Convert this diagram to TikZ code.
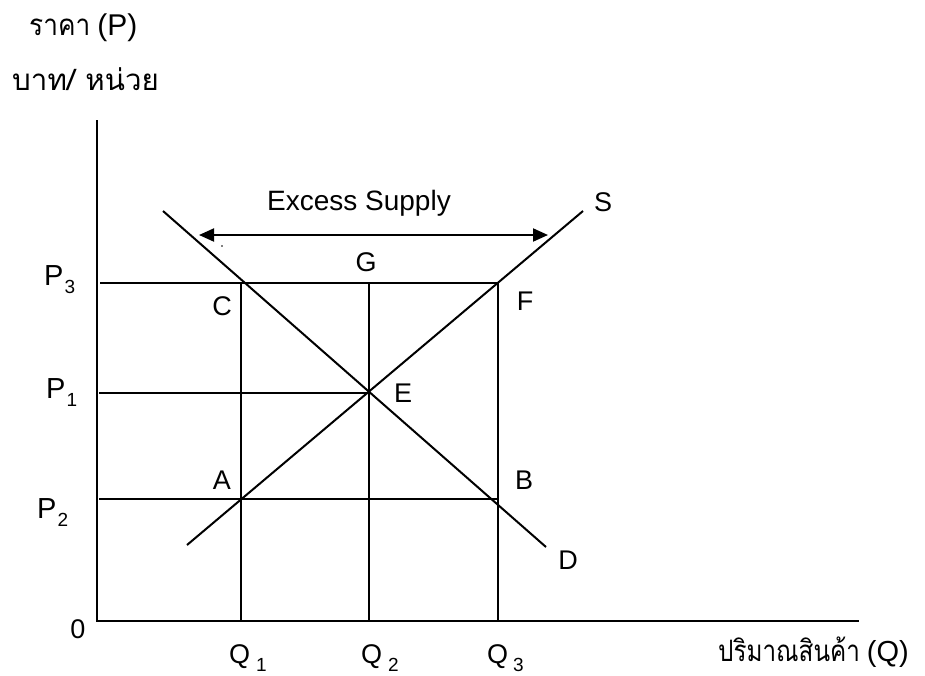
\documentclass[tikz,border=0pt]{standalone}
\usepackage{fontspec}
\setmainfont{Liberation Sans}
\newfontfamily\thaifont[Script=Thai]{Loma}
\usetikzlibrary{arrows.meta}
\newcommand{\thx}[2]{\scalebox{#1}[1.18]{\thaifont #2}}
\newcommand{\sbs}[1]{\raisebox{-8pt}{\fontsize{19}{20}\selectfont #1}}
\begin{document}
\begin{tikzpicture}[x=1pt,y=-1pt,
  ln/.style={line width=2pt},
  lbl/.style={inner sep=0pt,font=\fontsize{27}{30}\selectfont},
  plbl/.style={inner sep=0pt,anchor=base west,font=\fontsize{29}{30}\selectfont},
  thai/.style={inner sep=0pt,anchor=base west,font=\fontsize{25}{30}\selectfont}]
\useasboundingbox (0,0) rectangle (925,675);
% coordinates
\coordinate (O) at (97,621);
\coordinate (Ytop) at (97,120);
\coordinate (Xend) at (859,621);
\coordinate (P3s) at (100,283);
\coordinate (P1s) at (99,393);
\coordinate (P2s) at (99,499);
\coordinate (Cpt) at (241,283);
\coordinate (Fpt) at (498,283);
\coordinate (Gpt) at (369,283);
\coordinate (Ept) at (369,393);
\coordinate (Apt) at (241,499);
\coordinate (Bpt) at (498,499);
\coordinate (Q1b) at (241,621);
\coordinate (Q2b) at (369,621);
\coordinate (Q3b) at (498,621);
\coordinate (Ss) at (187,545);
\coordinate (Se) at (583,211);
\coordinate (Ds) at (163,211);
\coordinate (De) at (546,547);
\coordinate (ArL) at (199,235);
\coordinate (ArR) at (548,235);
% axes
\draw[ln] (Ytop) -- (O) -- (Xend);
% price lines
\draw[ln] (P3s) -- (Fpt);
\draw[ln] (P1s) -- (Ept);
\draw[ln] (P2s) -- (Bpt);
% quantity lines
\draw[ln] (Cpt) -- (Q1b);
\draw[ln] (Gpt) -- (Q2b);
\draw[ln] (Fpt) -- (Q3b);
% supply and demand
\draw[ln] (Ss) -- (Se);
\draw[ln] (Ds) -- (De);
% excess supply arrow
\draw[line width=2pt,{Triangle[length=15pt,width=13pt]}-{Triangle[length=15pt,width=13pt]}] (ArL) -- (ArR);
\fill (222,246) circle (0.9pt);
% axis titles
\node[thai] (yl1) at (29,35) {\thx{1.05}{ราคา} \fontsize{30}{32}\selectfont(P)};
\node[thai] (yl2) at (12,90) {\thx{1.18}{บาท/ หน่วย}};
\node[thai] (xl) at (718,661) {\thx{0.97}{ปริมาณสินค้า} \fontsize{29}{32}\selectfont(Q)};
% labels
\node[lbl,font=\fontsize{28}{30}\selectfont,anchor=base] (es) at (359,210) {Excess Supply};
\node[lbl] (S) at (603,202) {S};
\node[lbl] (D) at (568,560) {D};
\node[lbl] (G) at (366,262) {G};
\node[lbl] (C) at (222,306) {C};
\node[lbl] (F) at (525,301) {F};
\node[lbl] (E) at (403,393) {E};
\node[lbl] (A) at (222,480) {A};
\node[lbl] (B) at (524,480) {B};
\node[lbl] (zero) at (78,629) {0};
\node[plbl] (P3) at (44,285) {P\hspace{1pt}\sbs{3}};
\node[plbl] (P1) at (46,398) {P\hspace{1pt}\sbs{1}};
\node[plbl] (P2) at (37,518) {P\hspace{1pt}\sbs{2}};
\node[lbl,anchor=base west] (Q1) at (229,663) {Q\hspace{6pt}\sbs{1}};
\node[lbl,anchor=base west] (Q2) at (361,663) {Q\hspace{6pt}\sbs{2}};
\node[lbl,anchor=base west] (Q3) at (487,663) {Q\hspace{5pt}\sbs{3}};
\end{tikzpicture}
\end{document}
